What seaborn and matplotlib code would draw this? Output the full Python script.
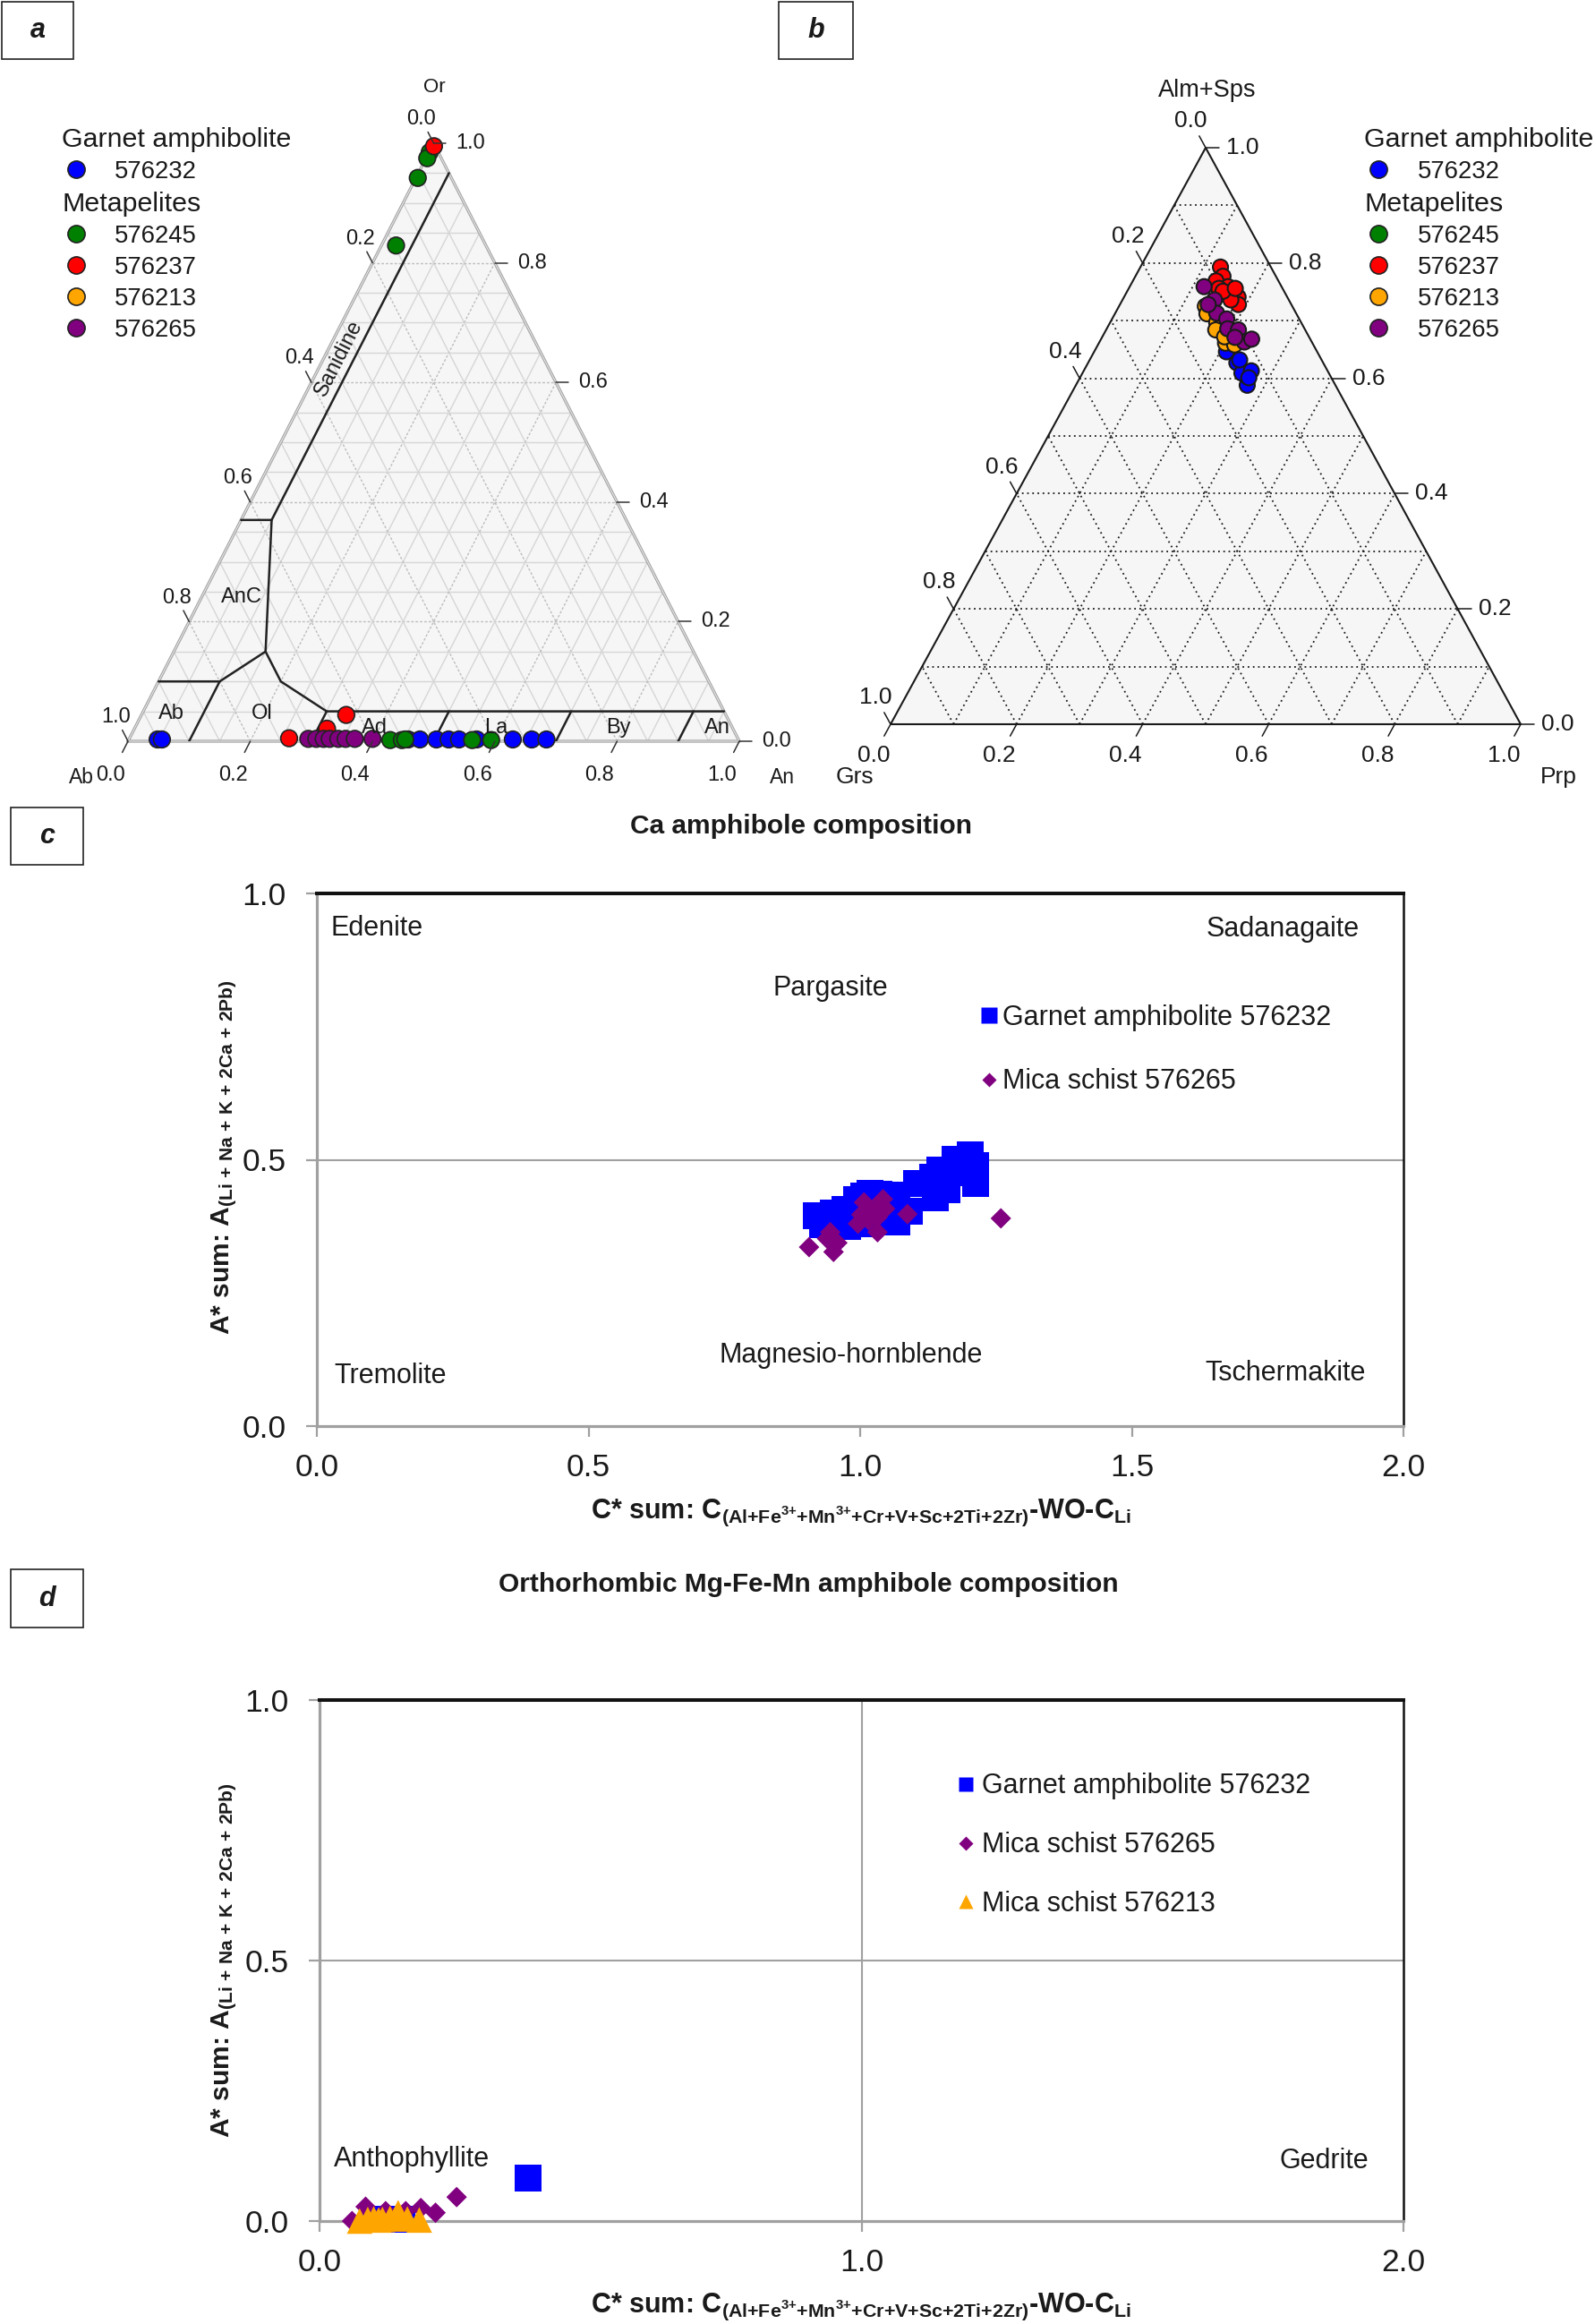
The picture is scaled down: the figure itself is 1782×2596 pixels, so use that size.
import numpy as np
import pandas as pd
import seaborn as sns
import matplotlib.pyplot as plt
from matplotlib.lines import Line2D
from matplotlib.patches import Polygon, Rectangle
from matplotlib.ticker import FormatStrFormatter

W, H, DPI = 1782, 2596, 100

SAMPLES = ["576232", "576245", "576237", "576213", "576265"]
COLORS = ["#0000ff", "#008000", "#ff0000", "#ffa500", "#800080"]

# a: feldspar, An and Or fractions (Ab = 1 - An - Or)
fsp_an_576232 = [0.047, 0.054, 0.457, 0.476, 0.503, 0.523, 0.540, 0.569, 0.628, 0.659, 0.683]
fsp_or_576232 = [0.003] * 11
fsp_an_576245 = [0.428, 0.447, 0.452, 0.562, 0.593, 0.001, 0.002, 0.003, 0.024]
fsp_or_576245 = [0.002, 0.002, 0.003, 0.002, 0.002, 0.985, 0.975, 0.942, 0.829]
fsp_an_576237 = [0.003, 0.261, 0.315, 0.335]
fsp_or_576237 = [0.995, 0.005, 0.021, 0.044]
fsp_an_576213 = []
fsp_or_576213 = []
fsp_an_576265 = [0.293, 0.306, 0.318, 0.328, 0.342, 0.354, 0.369, 0.398]
fsp_or_576265 = [0.004] * 8

# field boundaries of the feldspar diagram, (An, Or) vertices
fsp_bound_an = [[0.05, 0.05, 0.0], [0.05, 0.15, 0.10, 0.0], [0.10, 0.10],
                [0.15, 0.20, 0.30, 0.95], [0.30, 0.30], [0.50, 0.50], [0.70, 0.70], [0.90, 0.90]]
fsp_bound_or = [[0.95, 0.37, 0.37], [0.37, 0.15, 0.10, 0.10], [0.10, 0.0],
                [0.15, 0.10, 0.05, 0.05], [0.05, 0.0], [0.05, 0.0], [0.05, 0.0], [0.05, 0.0]]
fsp_field_names = ["Ab", "Ol", "Ad", "La", "By", "An", "AnC"]
fsp_field_an = [0.048, 0.196, 0.392, 0.591, 0.791, 0.952, 0.065]
fsp_field_or = [0.046, 0.046, 0.023, 0.023, 0.023, 0.023, 0.241]

# b: garnet, Prp and Alm+Sps fractions (Grs = rest)
grt_prp_576232 = [0.210, 0.236, 0.253, 0.266, 0.272, 0.268, 0.238]
grt_alm_576232 = [0.646, 0.627, 0.609, 0.613, 0.588, 0.601, 0.632]
grt_prp_576245 = []
grt_alm_576245 = []
grt_prp_576237 = [0.127, 0.139, 0.132, 0.156, 0.143, 0.170, 0.181, 0.188, 0.172, 0.152, 0.169]
grt_alm_576237 = [0.793, 0.777, 0.769, 0.759, 0.756, 0.748, 0.741, 0.728, 0.736, 0.751, 0.756]
grt_prp_576213 = [0.137, 0.146, 0.169, 0.174, 0.201, 0.217, 0.194]
grt_alm_576213 = [0.725, 0.712, 0.697, 0.684, 0.661, 0.658, 0.672]
grt_prp_576265 = [0.118, 0.146, 0.161, 0.182, 0.192, 0.210, 0.230, 0.239, 0.211, 0.140]
grt_alm_576265 = [0.759, 0.736, 0.713, 0.703, 0.686, 0.684, 0.663, 0.668, 0.671, 0.728]

# c: Ca amphibole (C* sum, A* sum)
camp_c_576232 = [0.920, 0.930, 0.950, 0.972, 0.977, 0.994, 1.006, 1.010, 1.018, 1.035, 1.046, 1.068,
                 1.068, 1.090, 1.104, 1.138, 1.133, 1.146, 1.160, 1.175, 1.185, 1.202, 1.212, 1.212]
camp_a_576232 = [0.395, 0.378, 0.400, 0.407, 0.375, 0.425, 0.432, 0.380, 0.4375, 0.435, 0.383, 0.383,
                 0.434, 0.403, 0.456, 0.428, 0.467, 0.481, 0.443, 0.500, 0.475, 0.509, 0.489, 0.455]
camp_c_576265 = [0.906, 0.945, 0.951, 0.958, 0.939, 1.007, 1.002, 0.996, 1.042, 1.046, 1.032, 1.032,
                 1.016, 1.087, 1.259, 1.025]
camp_a_576265 = [0.336, 0.364, 0.327, 0.344, 0.352, 0.420, 0.397, 0.380, 0.426, 0.408, 0.392, 0.364,
                 0.386, 0.398, 0.390, 0.408]

# d: orthorhombic amphibole
oamp_c_576232 = [0.385, 0.097, 0.117, 0.137, 0.152]
oamp_a_576232 = [0.082, 0.003, 0.004, 0.004, 0.003]
oamp_c_576265 = [0.085, 0.060, 0.187, 0.214, 0.253, 0.159, 0.122]
oamp_a_576265 = [0.0275, 0.0, 0.025, 0.016, 0.046, 0.019, 0.019]
oamp_c_576213 = [0.074, 0.089, 0.100, 0.109, 0.116, 0.130, 0.145, 0.162, 0.184]
oamp_a_576213 = [0.000, 0.003, 0.004, 0.002, 0.003, 0.005, 0.016, 0.004, 0.002]

TICKS = [0.0, 0.2, 0.4, 0.6, 0.8, 1.0]

sns.set_style("white")
plt.rcParams["font.family"] = ["Liberation Sans", "DejaVu Sans"]
plt.rcParams["mathtext.fontset"] = "custom"
plt.rcParams["mathtext.rm"] = "Liberation Sans"
plt.rcParams["mathtext.bf"] = "Liberation Sans:bold"
plt.rcParams["mathtext.it"] = "Liberation Sans:italic"
plt.rcParams["text.color"] = "#1a1a1a"

TXT = "#1a1a1a"


def px_axes(fig, left, top, right, bottom):
    return fig.add_axes([left / W, 1 - bottom / H, (right - left) / W, (bottom - top) / H])


def tern(right, top):
    right = np.asarray(right, float)
    top = np.asarray(top, float)
    return right + top / 2.0, top


def tern_frame(ax, step, minor_kw, major_kw, fill):
    ax.set_xlim(0, 1)
    ax.set_ylim(0, 1)
    ax.axis("off")
    ax.add_patch(Polygon([[0, 0], [1, 0], [0.5, 1]], closed=True, fc=fill, ec="none", zorder=0))
    n = int(round(1 / step))
    for i in range(1, n):
        v = i * step
        kw = major_kw if abs(v * 5 - round(v * 5)) < 1e-6 else minor_kw
        for r, t in (([0, 1 - v], [v, v]), ([v, v], [0, 1 - v]), ([1 - v, 0], [0, 1 - v])):
            x, y = tern(r, t)
            ax.plot(x, y, zorder=1, **kw)


def tern_ticks(ax, wpx, hpx, tick_px, left_px, bot_px, right_px, fs, color):
    diag = np.hypot(0.5 * wpx, hpx)
    lt = tick_px / diag
    for t in TICKS:
        lab = f"{t:.1f}"
        x0, y0 = tern(0, 1 - t)
        ax.plot([x0, x0 - 0.5 * lt], [y0, y0 + lt], color=color, lw=1.1, clip_on=False, zorder=6)
        d = left_px / diag
        ax.text(x0 - 0.5 * d, y0 + d, lab, ha="center", va="center", fontsize=fs, color=TXT)
        x0, y0 = tern(t, 0)
        ax.plot([x0, x0 - 0.5 * lt], [y0, y0 - lt], color=color, lw=1.1, clip_on=False, zorder=6)
        d = bot_px / diag
        ax.text(x0 - 0.5 * d, y0 - d, lab, ha="center", va="center", fontsize=fs, color=TXT)
        x0, y0 = tern(1 - t, t)
        ax.plot([x0, x0 + tick_px / wpx], [y0, y0], color=color, lw=1.1, clip_on=False, zorder=6)
        ax.text(x0 + right_px / wpx, y0, lab, ha="left", va="center", fontsize=fs, color=TXT)


def tern_df(rights, tops):
    rows = []
    for name, r, t in zip(SAMPLES, rights, tops):
        xs, ys = tern(r, t)
        rows += [(name, xv, yv) for xv, yv in zip(xs, ys)]
    return pd.DataFrame(rows, columns=["sample", "x", "y"])


def sample_legends(ax, left, top1, top2, hlen):
    handles = [Line2D([], [], ls="", marker="o", ms=13.8, mfc=c, mec="#222222", mew=1.2) for c in COLORS]
    kw = dict(loc="upper left", bbox_transform=fig.transFigure, frameon=False, borderpad=0,
              borderaxespad=0, fontsize=19.8, title_fontsize=21.9, alignment="left",
              handlelength=hlen, handletextpad=1.0, labelspacing=0.33)
    leg1 = ax.legend(handles[:1], SAMPLES[:1], title="Garnet amphibolite",
                     bbox_to_anchor=(left / W, 1 - top1 / H), **kw)
    ax.add_artist(leg1)
    ax.legend(handles[1:], SAMPLES[1:], title="Metapelites",
              bbox_to_anchor=(left / W, 1 - top2 / H), **kw)


fig = plt.figure(figsize=(W / DPI, H / DPI), dpi=DPI)

# ---------------- panel a ----------------
ax_a = px_axes(fig, 143, 160, 826, 828)
tern_frame(ax_a, 0.05,
           dict(color="#d6d6d6", lw=1.0, ls="-"),
           dict(color="#bdbdbd", lw=1.0, ls=(0, (2, 1.5))),
           "#f6f6f6")
ax_a.plot([0, 1, 0.5, 0], [0, 0, 1, 0], color="#a8a8a8", lw=2.4, zorder=2, clip_on=False)
ax_a.plot([0, 1, 0.5, 0], [0, 0, 1, 0], color="#f2f2f2", lw=0.6, zorder=2, clip_on=False)
for ban, bor in zip(fsp_bound_an, fsp_bound_or):
    x, y = tern(ban, bor)
    ax_a.plot(x, y, color="#222222", lw=1.8, zorder=3, solid_joinstyle="miter")
for name, fan, forr in zip(fsp_field_names, fsp_field_an, fsp_field_or):
    x, y = tern(fan, forr)
    ax_a.text(x, y, name, ha="center", va="center", fontsize=17, color=TXT, zorder=7)
x, y = tern(0.024, 0.641)
ax_a.text(x, y, "Sanidine", ha="center", va="center", fontsize=17, color=TXT, zorder=7,
          rotation=np.degrees(np.arctan2(668, 0.5 * 683)))
df_a = tern_df([fsp_an_576232, fsp_an_576245, fsp_an_576237, fsp_an_576213, fsp_an_576265],
               [fsp_or_576232, fsp_or_576245, fsp_or_576237, fsp_or_576213, fsp_or_576265])
sns.scatterplot(data=df_a, x="x", y="y", hue="sample", hue_order=SAMPLES, palette=COLORS, s=180,
                edgecolor="#222222", linewidth=1.2, legend=False, ax=ax_a, zorder=5, clip_on=False)
ax_a.axis("off")
tern_ticks(ax_a, 683, 668, 14, 30, 43, 25, 17, "#333333")
ax_a.text(0.501, 1.093, "Or", ha="center", va="center", fontsize=16, transform=ax_a.transAxes)
ax_a.text(-0.076, -0.060, "Ab", ha="center", va="center", fontsize=16.5, transform=ax_a.transAxes)
ax_a.text(1.070, -0.060, "An", ha="center", va="center", fontsize=16.5, transform=ax_a.transAxes)
sample_legends(ax_a, 69, 142, 213.5, 1.15)

# ---------------- panel b ----------------
ax_b = px_axes(fig, 995, 165, 1699, 809)
dot = dict(color="#1a1a1a", lw=1.3, ls=(0, (1, 2.2)))
tern_frame(ax_b, 0.1, dot, dot, "#f6f6f6")
ax_b.plot([0, 1, 0.5, 0], [0, 0, 1, 0], color="#1a1a1a", lw=1.5, zorder=2, clip_on=False)
df_b = tern_df([grt_prp_576232, grt_prp_576245, grt_prp_576237, grt_prp_576213, grt_prp_576265],
               [grt_alm_576232, grt_alm_576245, grt_alm_576237, grt_alm_576213, grt_alm_576265])
sns.scatterplot(data=df_b, x="x", y="y", hue="sample", hue_order=SAMPLES, palette=COLORS, s=150,
                edgecolor="#1a1a1a", linewidth=1.5, legend=False, ax=ax_b, zorder=5, clip_on=False)
ax_b.axis("off")
tern_ticks(ax_b, 704, 644, 15, 34, 40, 23, 19, "#1a1a1a")
ax_b.text(0.502, 1.099, "Alm+Sps", ha="center", va="center", fontsize=19.5, transform=ax_b.transAxes)
ax_b.text(-0.057, -0.092, "Grs", ha="center", va="center", fontsize=19, transform=ax_b.transAxes)
ax_b.text(1.060, -0.092, "Prp", ha="center", va="center", fontsize=19, transform=ax_b.transAxes)
sample_legends(ax_b, 1524.5, 142, 213.5, 1.15)


# ---------------- panels c, d ----------------
def style_xy(ax, xticks):
    ax.set_xlim(0, 2)
    ax.set_ylim(0, 1)
    ax.set_xticks(xticks)
    ax.set_yticks([0, 0.5, 1.0])
    ax.xaxis.set_major_formatter(FormatStrFormatter("%.1f"))
    ax.yaxis.set_major_formatter(FormatStrFormatter("%.1f"))
    ax.set_xlabel("")
    ax.set_ylabel("")
    for side in ("left", "bottom"):
        ax.spines[side].set_color("#a0a0a0")
        ax.spines[side].set_linewidth(2.3)
    ax.spines["top"].set_color("#111111")
    ax.spines["top"].set_linewidth(2.9)
    ax.spines["right"].set_color("#111111")
    ax.spines["right"].set_linewidth(1.8)
    ax.tick_params(axis="both", direction="out", length=8.5, width=1.6, color="#a0a0a0",
                   labelsize=25.5, labelcolor=TXT, bottom=True, left=True, top=False, right=False)
    ax.tick_params(axis="x", pad=13)
    ax.tick_params(axis="y", pad=16)


YLAB = r"A* sum: A$_{\mathbf{(Li\,+\,Na\,+\,K\,+\,2Ca\,+\,2Pb)}}$"
XLAB = r"C* sum: C$_{\mathbf{(Al{+}Fe^{3{+}}{+}Mn^{3{+}}{+}Cr{+}V{+}Sc{+}2Ti{+}2Zr)}}$-WO-C$_{\mathbf{Li}}$"

ax_c = px_axes(fig, 354, 998, 1568, 1593)
ax_c.axhline(0.5, color="#a0a0a0", lw=1.5, zorder=1)
sns.scatterplot(x=camp_c_576232, y=camp_a_576232, marker="s", s=467, color="#0000ff",
                edgecolor="none", linewidth=0, ax=ax_c, zorder=3)
sns.scatterplot(x=camp_c_576265, y=camp_a_576265, marker="D", s=137, color="#800080",
                edgecolor="none", linewidth=0, ax=ax_c, zorder=4)
style_xy(ax_c, [0, 0.5, 1.0, 1.5, 2.0])
ax_c.text(0.026, 0.935, "Edenite", ha="left", va="center", fontsize=22)
ax_c.text(0.840, 0.822, "Pargasite", ha="left", va="center", fontsize=22)
ax_c.text(1.919, 0.933, "Sadanagaite", ha="right", va="center", fontsize=22)
ax_c.text(0.032, 0.0945, "Tremolite", ha="left", va="center", fontsize=22)
ax_c.text(0.740, 0.1336, "Magnesio-hornblende", ha="left", va="center", fontsize=22)
ax_c.text(1.931, 0.0985, "Tschermakite", ha="right", va="center", fontsize=22)
hc = [Line2D([], [], ls="", marker="s", ms=12.7, mfc="#0000ff", mec="none"),
      Line2D([], [], ls="", marker="D", ms=8.6, mfc="#800080", mec="none")]
ax_c.legend(hc, ["Garnet amphibolite 576232", "Mica schist 576265"], loc="upper left",
            bbox_to_anchor=(0.611, 0.792), frameon=False, borderpad=0, borderaxespad=0,
            fontsize=22, handlelength=0.6, handletextpad=0.2, labelspacing=1.36)
fig.text(251 / W, 1 - 1293 / H, YLAB, rotation=90, ha="center", va="center",
         fontsize=21.6, fontweight="bold")
fig.text(962 / W, 1 - 1696 / H, XLAB, ha="center", va="baseline", fontsize=22, fontweight="bold")
fig.text(895 / W, 1 - 923 / H, "Ca amphibole composition", ha="center", va="center",
         fontsize=21.5, fontweight="bold")

ax_d = px_axes(fig, 357, 1899, 1568, 2481)
ax_d.axhline(0.5, color="#a0a0a0", lw=1.5, zorder=1)
ax_d.axvline(1.0, color="#a0a0a0", lw=1.5, zorder=1)
sns.scatterplot(x=oamp_c_576232, y=oamp_a_576232, marker="s", s=467, color="#0000ff",
                edgecolor="none", linewidth=0, ax=ax_d, zorder=3, clip_on=False)
sns.scatterplot(x=oamp_c_576265, y=oamp_a_576265, marker="D", s=137, color="#800080",
                edgecolor="none", linewidth=0, ax=ax_d, zorder=4, clip_on=False)
sns.scatterplot(x=oamp_c_576213, y=oamp_a_576213, marker="^", s=424, color="#ffa500",
                edgecolor="none", linewidth=0, ax=ax_d, zorder=5, clip_on=False)
style_xy(ax_d, [0, 1.0, 2.0])
ax_d.text(0.027, 0.119, "Anthophyllite", ha="left", va="center", fontsize=22)
ax_d.text(1.935, 0.1156, "Gedrite", ha="right", va="center", fontsize=22)
hd = [Line2D([], [], ls="", marker="s", ms=12.0, mfc="#0000ff", mec="none"),
      Line2D([], [], ls="", marker="D", ms=8.6, mfc="#800080", mec="none"),
      Line2D([], [], ls="", marker="^", ms=12.0, mfc="#ffa500", mec="none")]
ax_d.legend(hd, ["Garnet amphibolite 576232", "Mica schist 576265", "Mica schist 576213"],
            loc="upper left", bbox_to_anchor=(0.589, 0.86), frameon=False, borderpad=0,
            borderaxespad=0, fontsize=22, handlelength=0.6, handletextpad=0.26, labelspacing=1.17)
fig.text(251 / W, 1 - 2190 / H, YLAB, rotation=90, ha="center", va="center",
         fontsize=21.6, fontweight="bold")
fig.text(962 / W, 1 - 2583 / H, XLAB, ha="center", va="baseline", fontsize=22, fontweight="bold")
fig.text(903 / W, 1 - 1770 / H, "Orthorhombic Mg-Fe-Mn amphibole composition", ha="center",
         va="center", fontsize=21.5, fontweight="bold")

# panel letters
for letter, (x0, y0, x1, y1) in zip("abcd", [(2, 2, 82, 66), (870, 2, 953, 66),
                                             (12, 902, 93, 966), (12, 1753, 93, 1818)]):
    fig.add_artist(Rectangle((x0 / W, 1 - y1 / H), (x1 - x0) / W, (y1 - y0) / H,
                             transform=fig.transFigure, fill=False, ec="#222222", lw=1.2))
    fig.text((x0 + x1) / 2 / W, 1 - (y0 + y1) / 2 / H, letter, ha="center", va="center",
             fontsize=22, fontweight="bold", fontstyle="italic")

fig.savefig("out.png", dpi=DPI)
